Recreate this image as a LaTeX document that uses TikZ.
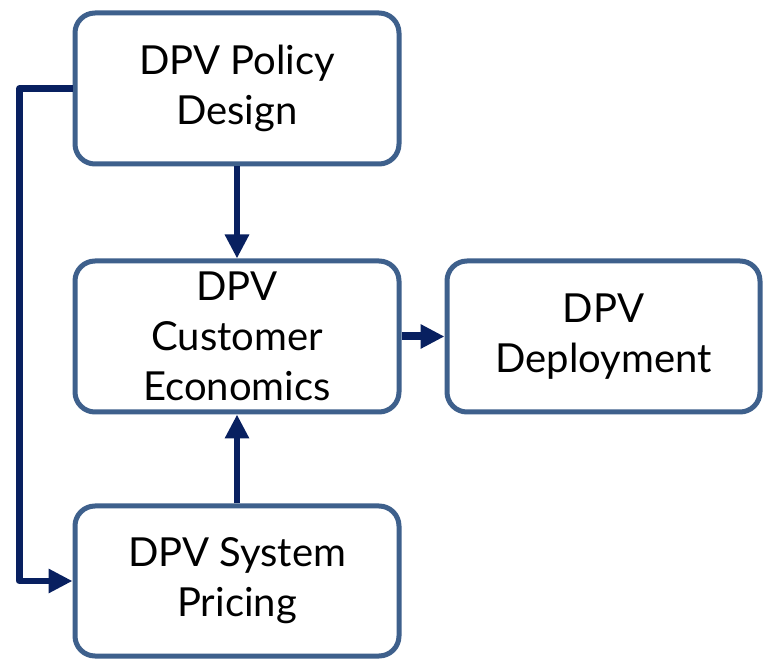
\documentclass[tikz,border=0pt]{standalone}
\usepackage{fontspec}
\setmainfont{Lato}
\usetikzlibrary{arrows.meta}
\definecolor{boxline}{RGB}{62,96,140}
\definecolor{flow}{RGB}{8,32,96}
\tikzset{
  stage/.style={draw=boxline, line width=5pt, rounded corners=20pt, fill=white,
    inner sep=0pt, align=center, text=black,
    font=\fontsize{40}{50}\selectfont},
  flowline/.style={draw=flow, line width=6.5pt, line join=round,
    -{Triangle[length=24pt,width=23pt]}}
}
\begin{document}
\begin{tikzpicture}[x=1pt,y=-1pt]
  \useasboundingbox (0,0) rectangle (764,660);
  \fill[white] (0,0) rectangle (764,660);

  \node[stage, minimum width=324pt, minimum height=151pt] (policy) at (237,88.5)
    {DPV Policy\\Design};
  \node[stage, minimum width=324pt, minimum height=151pt] (econ) at (237,336.5)
    {DPV\\Customer\\Economics};
  \node[stage, minimum width=313pt, minimum height=151pt] (deploy) at (603.5,336.5)
    {DPV\\Deployment};
  \node[stage, minimum width=324pt, minimum height=150pt] (pricing) at (237,581)
    {DPV System\\Pricing};

  \coordinate (rail) at (19.5,0);

  \draw[flowline] (policy.south) -- (econ.north);
  \draw[flowline] (pricing.north) -- (econ.south);
  \draw[flowline, line width=8pt] (econ.east) -- (deploy.west);
  \draw[flowline] (policy.west) -- (policy.west -| rail) -- (pricing.west -| rail) -- (pricing.west);
\end{tikzpicture}
\end{document}
